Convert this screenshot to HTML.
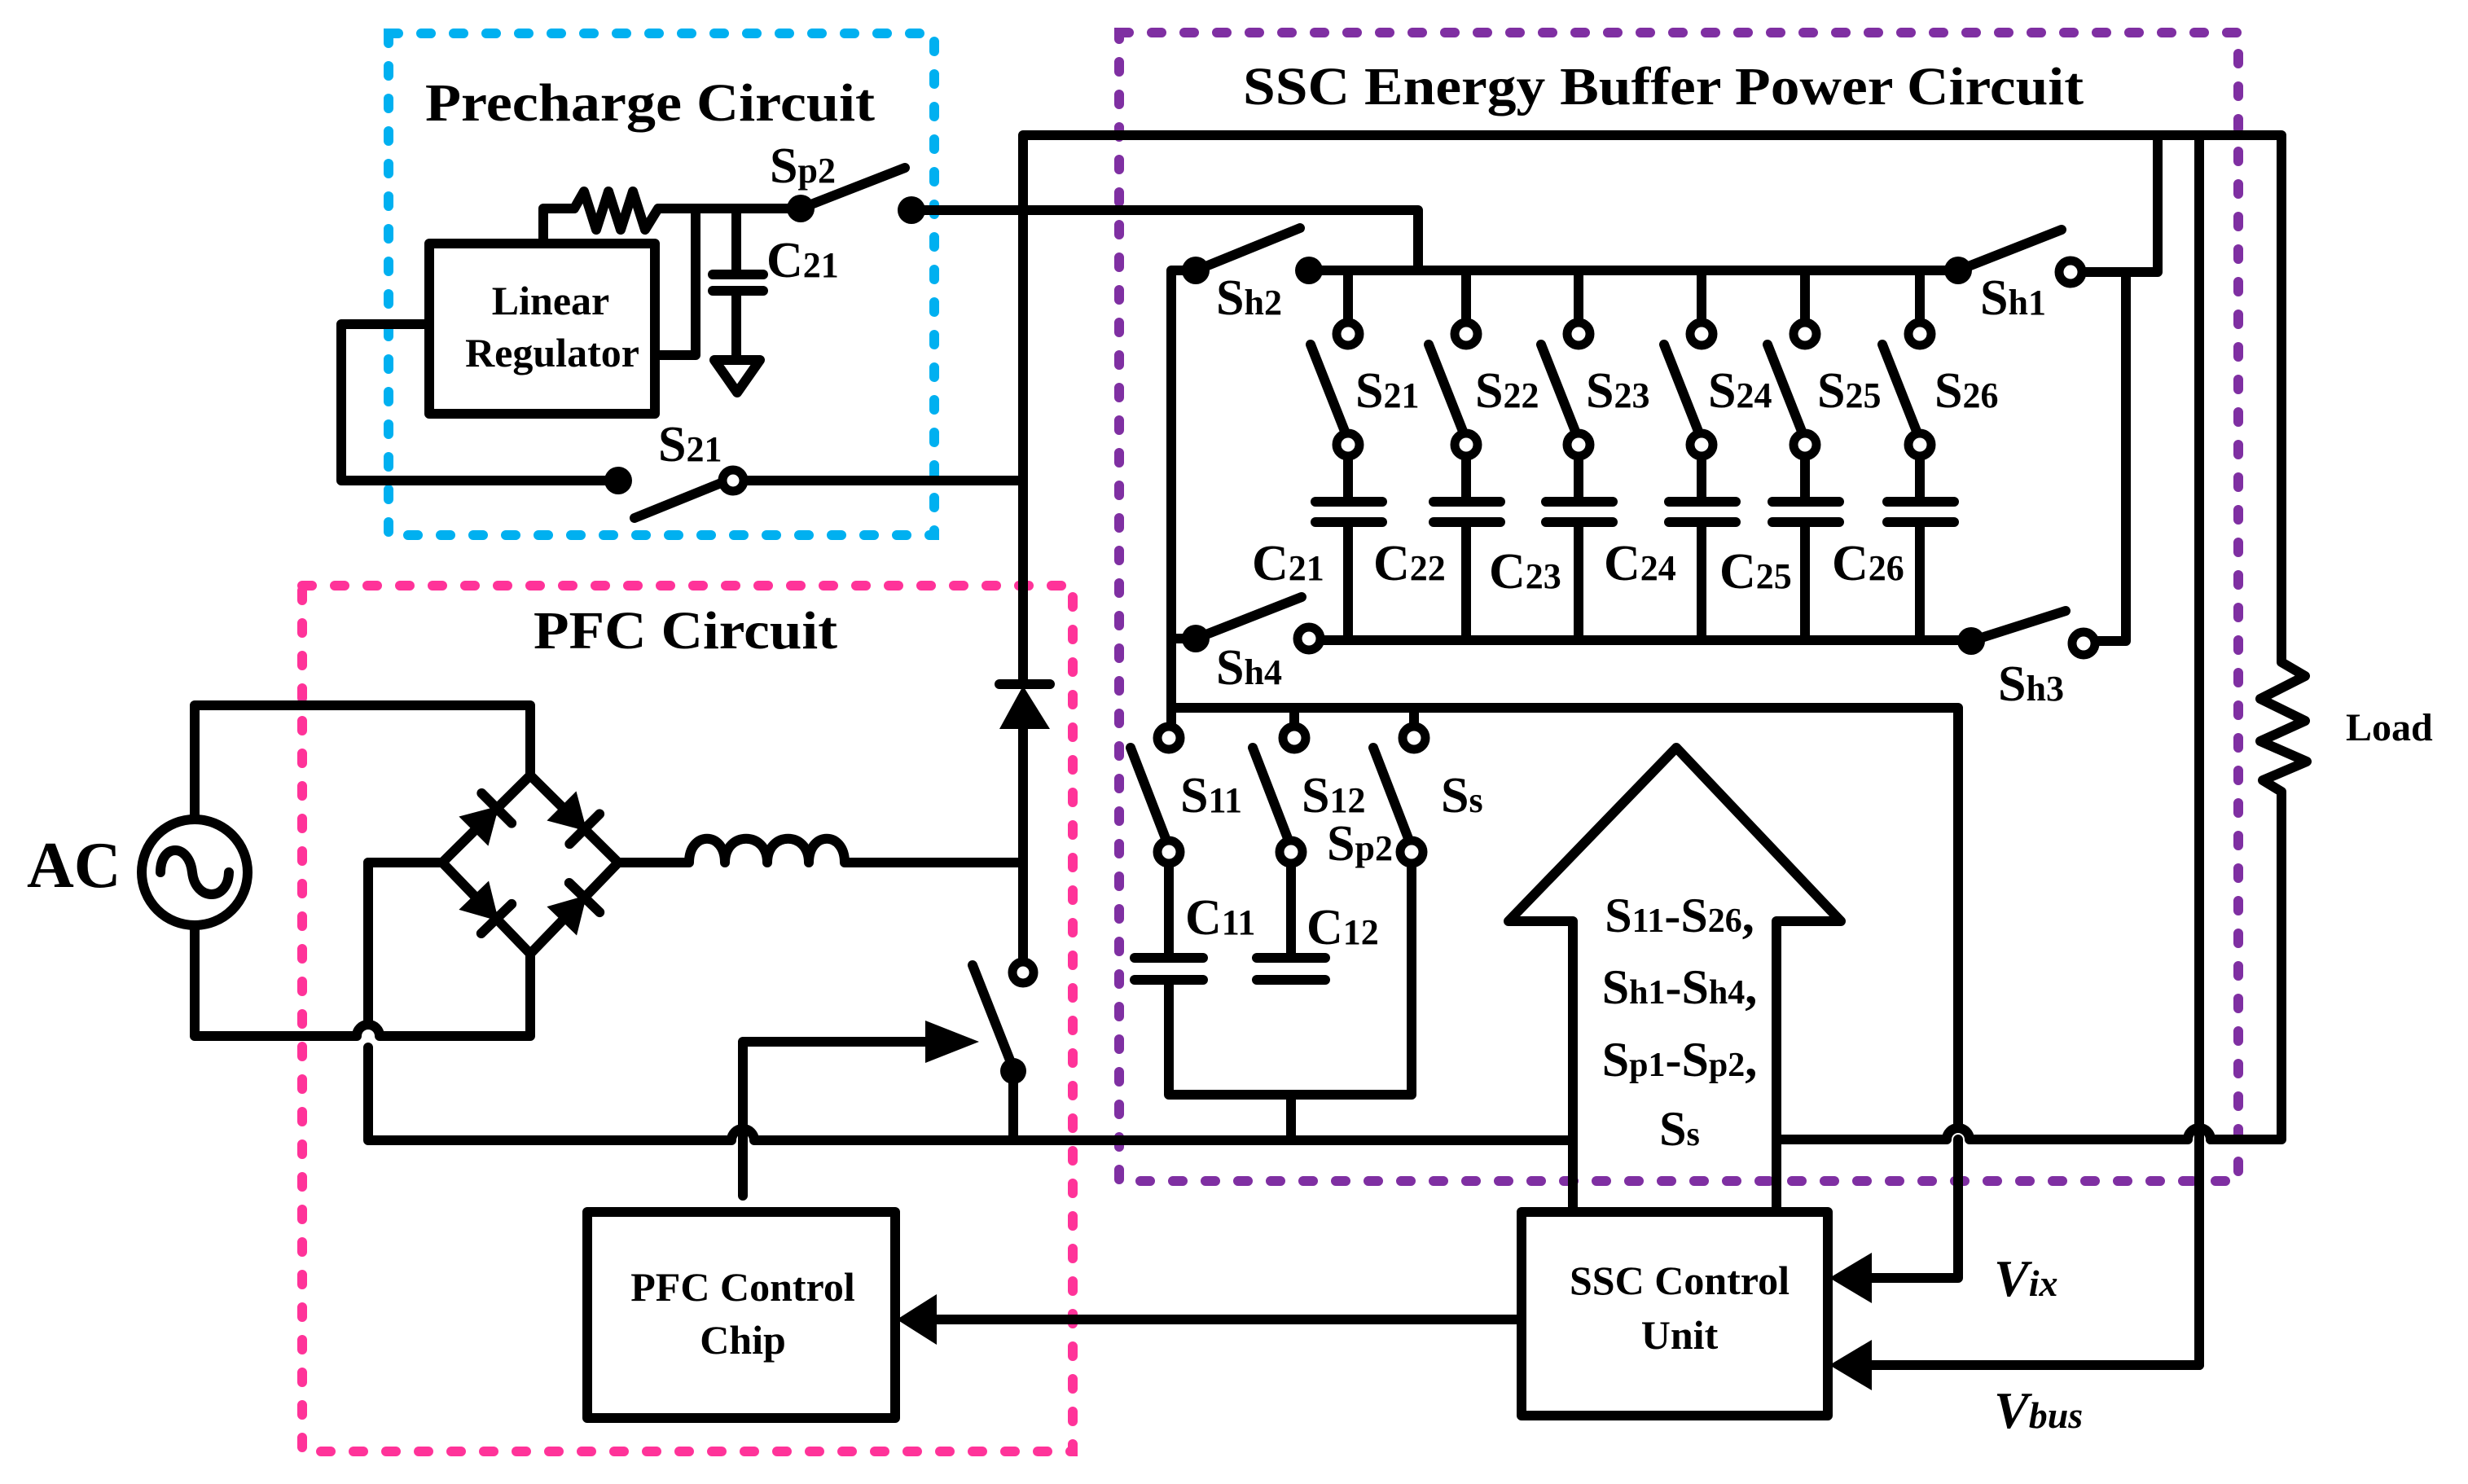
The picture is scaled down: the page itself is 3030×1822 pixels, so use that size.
<!DOCTYPE html>
<html><head><meta charset="utf-8"><style>
html,body{margin:0;padding:0;background:#fff;}
svg{display:block;}
text{font-family:"Liberation Serif",serif;font-weight:bold;fill:#000;}
</style></head><body>
<svg width="3030" height="1822" viewBox="0 0 3030 1822" xmlns="http://www.w3.org/2000/svg">
<!-- dashed boxes -->
<g fill="none" stroke-width="12" stroke-linecap="round" stroke-dasharray="12 28">
<rect x="477" y="41" width="670" height="616" stroke="#00b0f0"/>
<rect x="1374" y="40" width="1374" height="1410" stroke="#7f2fa2"/>
<rect x="371" y="719" width="946" height="1063" stroke="#ff3399"/>
</g>
<g fill="none" stroke="#000" stroke-width="12" stroke-linecap="round" stroke-linejoin="round">
<!-- precharge -->
<rect x="527" y="299" width="277" height="209"/>
<polyline points="667,299 667,256 705,256 717,235 732,282 747,235 762,282 777,235 792,282 808,256 983,256"/>
<polyline points="854,256 854,436 804,436"/>
<polyline points="904,256 904,337"/>
<line x1="875" y1="337" x2="937" y2="337"/><line x1="875" y1="357" x2="937" y2="357"/>
<polyline points="904,357 904,442"/>
<polygon points="877,442 933,442 905,482"/>
<line x1="983" y1="256" x2="1111" y2="206"/>
<polyline points="1119,258 1741,258 1741,332"/>
<polyline points="527,398 419,398 419,590 759,590"/>
<line x1="779" y1="636" x2="900" y2="587"/>
<line x1="900" y1="590" x2="1256" y2="590"/>
<!-- main vertical -->
<polyline points="1256,840 1256,166 2801,166 2801,813 2830,830 2775,858 2830,885 2775,910 2832,935 2778,958 2801,972 2801,1399 2714,1399"/>
<line x1="1227" y1="840" x2="1289" y2="840"/>
<line x1="1256" y1="895" x2="1256" y2="1180"/>
<line x1="1194" y1="1185" x2="1244" y2="1312"/>
<line x1="1244" y1="1312" x2="1244" y2="1399"/>
<!-- SSC upper -->
<polyline points="2649,166 2649,334 2556,334"/>
<polyline points="2610,334 2610,787 2572,787"/>
<line x1="1607" y1="332" x2="2404" y2="332"/>
<polyline points="1468,332 1438,332 1438,869 2404,869 2404,1385"/>
<line x1="1468" y1="784" x2="1438" y2="784"/>
<line x1="1468" y1="332" x2="1596" y2="280"/>
<line x1="2404" y1="332" x2="2531" y2="282"/>
<line x1="1468" y1="784" x2="1598" y2="733"/>
<line x1="2420" y1="787" x2="2536" y2="750"/>
<line x1="1607" y1="786" x2="2420" y2="786"/>
<!-- 6 columns -->
<g id="col">
<line x1="1655" y1="332" x2="1655" y2="396"/>
<line x1="1609" y1="423" x2="1652" y2="532"/>
<line x1="1655" y1="560" x2="1655" y2="616"/>
<line x1="1615" y1="616" x2="1697" y2="616"/><line x1="1615" y1="641" x2="1697" y2="641"/>
<line x1="1655" y1="641" x2="1655" y2="786"/>
</g>
<use href="#col" x="145"/><use href="#col" x="283"/><use href="#col" x="434"/><use href="#col" x="561"/><use href="#col" x="702"/>
<!-- lower switches -->
<line x1="1438" y1="869" x2="1438" y2="893"/>
<line x1="1589" y1="869" x2="1589" y2="893"/>
<line x1="1736" y1="869" x2="1736" y2="893"/>
<line x1="1388" y1="918" x2="1432" y2="1032"/>
<line x1="1538" y1="918" x2="1582" y2="1032"/>
<line x1="1686" y1="918" x2="1730" y2="1032"/>
<line x1="1435" y1="1060" x2="1435" y2="1176"/>
<line x1="1585" y1="1060" x2="1585" y2="1176"/>
<line x1="1393" y1="1176" x2="1477" y2="1176"/><line x1="1393" y1="1203" x2="1477" y2="1203"/>
<line x1="1543" y1="1176" x2="1627" y2="1176"/><line x1="1543" y1="1203" x2="1627" y2="1203"/>
<polyline points="1435,1203 1435,1344 1733,1344 1733,1060"/>
<line x1="1585" y1="1344" x2="1585" y2="1399"/>
<!-- bottom wire -->
<path d="M452,1286 L452,1400 L898,1400 A14,14 0 0 1 926,1400 L1931,1400"/>
<path d="M2181,1399 L2390,1399 A14,14 0 0 1 2418,1399 L2686,1399 A14,14 0 0 1 2714,1399"/>
<line x1="2700" y1="166" x2="2700" y2="1676"/>
<polyline points="2404,1399 2404,1569 2296,1569"/>
<line x1="2700" y1="1676" x2="2296" y2="1676"/>
<!-- big arrow -->
<polyline points="1931,1485 1931,1131 1852,1131 2058,918 2260,1131 2181,1131 2181,1485"/>
<rect x="1868" y="1488" width="376" height="250"/>
<line x1="1868" y1="1620" x2="1148" y2="1620"/>
<rect x="721" y="1488" width="378" height="253"/>
<polyline points="912,1468 912,1279 1136,1279"/>
<!-- AC / bridge -->
<polyline points="239,1006 239,866 651,866 651,952"/>
<path d="M239,1136 L239,1272 L438,1272 A14,14 0 0 1 466,1272 L651,1272 L651,1171"/>
<polygon points="651,952 759,1059 651,1171 543,1059"/>
<line x1="543" y1="1059" x2="452" y2="1059"/>
<line x1="452" y1="1059" x2="452" y2="1258"/>
<path d="M759,1059 L846,1059 C846,1020 890,1020 890,1059 C890,1020 942,1020 942,1059 C942,1020 993,1020 993,1059 C993,1020 1037,1020 1037,1059 L1256,1059"/>
<circle cx="239" cy="1071" r="65"/>
<path d="M197,1071 C197,1035 232,1035 236,1071 C240,1107 280,1107 281,1071"/>
</g>
<!-- bridge diodes -->
<g fill="#000" stroke="#000" stroke-width="12" stroke-linecap="round">
<g transform="translate(597,1005) rotate(-45)"><polygon points="-20,-22 -20,22 18,0" stroke-width="4"/><line x1="18" y1="-26" x2="18" y2="26"/></g>
<g transform="translate(705,1005) rotate(45)"><polygon points="-20,-22 -20,22 18,0" stroke-width="4"/><line x1="18" y1="-26" x2="18" y2="26"/></g>
<g transform="translate(597,1115) rotate(46)"><polygon points="-20,-22 -20,22 18,0" stroke-width="4"/><line x1="18" y1="-26" x2="18" y2="26"/></g>
<g transform="translate(705,1115) rotate(-46)"><polygon points="-20,-22 -20,22 18,0" stroke-width="4"/><line x1="18" y1="-26" x2="18" y2="26"/></g>
</g>
<!-- arrowheads / filled -->
<g fill="#000">
<polygon points="1256,842 1227,895 1289,895"/>
<polygon points="1202,1279 1136,1253 1136,1305"/>
<polygon points="1101,1620 1150,1589 1150,1651"/>
<polygon points="2246,1569 2298,1538 2298,1600"/>
<polygon points="2246,1676 2298,1645 2298,1707"/>
<circle cx="983" cy="256" r="17"/><circle cx="1119" cy="258" r="17"/>
<circle cx="759" cy="590" r="17"/>
<circle cx="1468" cy="332" r="17"/><circle cx="1607" cy="332" r="17"/>
<circle cx="2404" cy="332" r="17"/>
<circle cx="1468" cy="784" r="17"/><circle cx="2420" cy="787" r="17"/>
<circle cx="1244" cy="1315" r="16"/>
</g>
<!-- hollow circles -->
<g fill="#fff" stroke="#000" stroke-width="11">
<circle cx="900" cy="590" r="13"/>
<circle cx="2542" cy="334" r="14"/><circle cx="1607" cy="784" r="14"/><circle cx="2558" cy="790" r="14"/>
<circle cx="1655" cy="410" r="14"/><circle cx="1800" cy="410" r="14"/><circle cx="1938" cy="410" r="14"/><circle cx="2089" cy="410" r="14"/><circle cx="2216" cy="410" r="14"/><circle cx="2357" cy="410" r="14"/>
<circle cx="1655" cy="546" r="14"/><circle cx="1800" cy="546" r="14"/><circle cx="1938" cy="546" r="14"/><circle cx="2089" cy="546" r="14"/><circle cx="2216" cy="546" r="14"/><circle cx="2357" cy="546" r="14"/>
<circle cx="1435" cy="906" r="14"/><circle cx="1589" cy="906" r="14"/><circle cx="1736" cy="906" r="14"/>
<circle cx="1435" cy="1046" r="14"/><circle cx="1585" cy="1046" r="14"/><circle cx="1733" cy="1046" r="14"/>
<circle cx="1256" cy="1194" r="13"/>
</g>
<!-- text -->
<text x="522" y="148" font-size="66" textLength="552" lengthAdjust="spacingAndGlyphs">Precharge Circuit</text>
<text x="1526" y="128" font-size="66" textLength="1032" lengthAdjust="spacingAndGlyphs">SSC Energy Buffer Power Circuit</text>
<text x="655" y="796" font-size="66" textLength="373" lengthAdjust="spacingAndGlyphs">PFC Circuit</text>
<g font-size="50" text-anchor="middle">
<text x="676" y="386">Linear</text>
<text x="678" y="450">Regulator</text>
<text x="912" y="1597">PFC Control</text>
<text x="912" y="1662">Chip</text>
<text x="2062" y="1589">SSC Control</text>
<text x="2062" y="1656">Unit</text>
</g>
<text x="33" y="1089" font-size="80">AC</text>
<text x="2880" y="909" font-size="48">Load</text>
<g font-size="62">
<text x="945" y="224">S<tspan font-size="44">p2</tspan></text>
<text x="941" y="340">C<tspan font-size="44">21</tspan></text>
<text x="808" y="566">S<tspan font-size="44">21</tspan></text>
<text x="1493" y="386">S<tspan font-size="44">h2</tspan></text>
<text x="2431" y="386">S<tspan font-size="44">h1</tspan></text>
<text x="1493" y="840">S<tspan font-size="44">h4</tspan></text>
<text x="2453" y="860">S<tspan font-size="44">h3</tspan></text>
<text x="1664" y="500">S<tspan font-size="44">21</tspan></text>
<text x="1811" y="500">S<tspan font-size="44">22</tspan></text>
<text x="1947" y="500">S<tspan font-size="44">23</tspan></text>
<text x="2097" y="500">S<tspan font-size="44">24</tspan></text>
<text x="2231" y="500">S<tspan font-size="44">25</tspan></text>
<text x="2375" y="500">S<tspan font-size="44">26</tspan></text>
<text x="1537" y="712">C<tspan font-size="44">21</tspan></text>
<text x="1686" y="712">C<tspan font-size="44">22</tspan></text>
<text x="1828" y="722">C<tspan font-size="44">23</tspan></text>
<text x="1969" y="712">C<tspan font-size="44">24</tspan></text>
<text x="2111" y="722">C<tspan font-size="44">25</tspan></text>
<text x="2249" y="712">C<tspan font-size="44">26</tspan></text>
<text x="1449" y="997">S<tspan font-size="44">11</tspan></text>
<text x="1598" y="997">S<tspan font-size="44">12</tspan></text>
<text x="1769" y="997">S<tspan font-size="44">s</tspan></text>
<text x="1629" y="1056">S<tspan font-size="44">p2</tspan></text>
<text x="1455" y="1147">C<tspan font-size="44">11</tspan></text>
<text x="1604" y="1159">C<tspan font-size="44">12</tspan></text>
</g>
<g font-size="60" text-anchor="middle">
<text x="2062" y="1144">S<tspan font-size="42">11</tspan>-S<tspan font-size="42">26</tspan>,</text>
<text x="2062" y="1232">S<tspan font-size="42">h1</tspan>-S<tspan font-size="42">h4</tspan>,</text>
<text x="2062" y="1321">S<tspan font-size="42">p1</tspan>-S<tspan font-size="42">p2</tspan>,</text>
<text x="2062" y="1406">S<tspan font-size="42">s</tspan></text>
</g>
<g font-size="64" font-style="italic">
<text x="2448" y="1591">V<tspan font-size="46">ix</tspan></text>
<text x="2448" y="1753">V<tspan font-size="46">bus</tspan></text>
</g>
</svg>
</body></html>
